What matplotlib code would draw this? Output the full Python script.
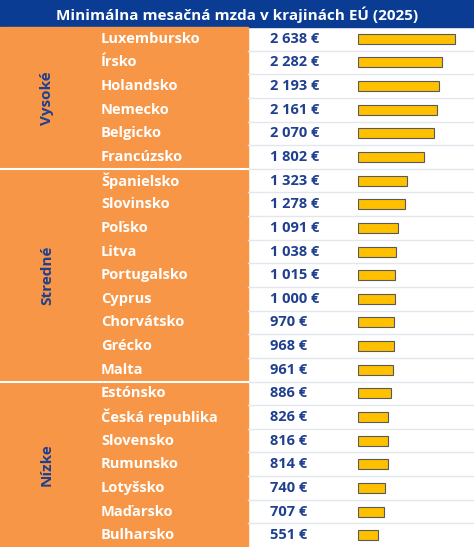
import matplotlib.pyplot as plt
from matplotlib.patches import Rectangle

countries = ["Luxembursko", "Írsko", "Holandsko", "Nemecko", "Belgicko", "Francúzsko",
             "Španielsko", "Slovinsko", "Poľsko", "Litva", "Portugalsko", "Cyprus",
             "Chorvátsko", "Grécko", "Malta",
             "Estónsko", "Česká republika", "Slovensko", "Rumunsko", "Lotyšsko",
             "Maďarsko", "Bulharsko"]
wages = [2638, 2282, 2193, 2161, 2070, 1802,
         1323, 1278, 1091, 1038, 1015, 1000, 970, 968, 961,
         886, 826, 816, 814, 740, 707, 551]
groups = ["Vysoké", "Stredné", "Nízke"]
group_sizes = [6, 9, 7]
title = "Minimálna mesačná mzda v krajinách EÚ (2025)"

W, H = 474, 547
TOP = 27
n = len(countries)
rh = (H - TOP) / n
ORANGE = "#F79646"
BLUE = "#1F3F8F"
TBLUE = "#0B3C94"

fig = plt.figure(figsize=(W / 100, H / 100), dpi=100)
ax = fig.add_axes([0, 0, 1, 1])
ax.set_xlim(0, W)
ax.set_ylim(H, 0)
ax.axis("off")

ax.add_patch(Rectangle((0, 0), W, TOP, color=TBLUE))
ax.text(W / 2, TOP / 2 + 1, title, color="white", fontsize=11, fontweight="bold",
        ha="center", va="center", family="Open Sans")
ax.add_patch(Rectangle((0, TOP), 248, H - TOP, color=ORANGE))

for i, (c, v) in enumerate(zip(countries, wages)):
    yc = TOP + (i + 0.5) * rh
    ax.text(101, yc, c, color="white", fontsize=10.5, fontweight="bold", va="center",
            family="Open Sans")
    s = f"{v:,}".replace(",", " ") + " €"
    ax.text(270, yc, s, color=BLUE, fontsize=10.5, fontweight="bold", va="center",
            family="Open Sans")
    if i > 0:
        y = TOP + i * rh
        ax.plot([248, W], [y, y], color="#E3E6EC", lw=1)

start = 0
for g, sz in zip(groups, group_sizes):
    y0 = TOP + start * rh
    y1 = TOP + (start + sz) * rh
    ax.text(47, (y0 + y1) / 2, g, color=BLUE, fontsize=11, fontweight="bold",
            rotation=90, ha="center", va="center", family="Open Sans")
    if start > 0:
        ax.plot([0, 248], [y0, y0], color="white", lw=1.5)
    start += sz

# bar column
bx = fig.add_axes([358 / W, 0, (W - 358) / W, (H - TOP) / H])
bx.set_xlim(0, 2638 * (W - 358) / 97)
bx.set_ylim(n - 0.5, -0.5)
bx.barh(range(n), wages, height=0.42, color="#FFC000", edgecolor="#595959", lw=0.8)
bx.axis("off")

fig.savefig("out.png", dpi=100)
